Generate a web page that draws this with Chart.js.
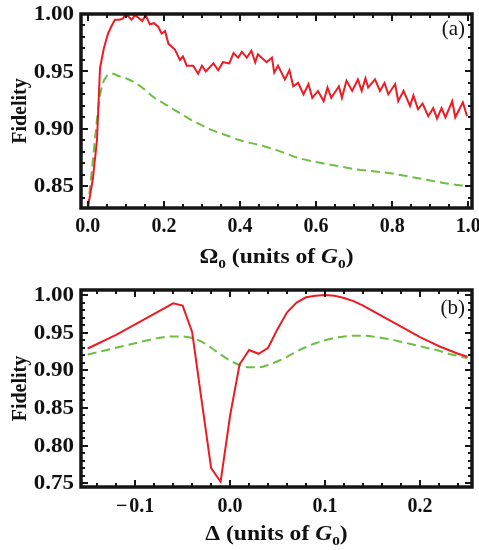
<!DOCTYPE html>
<html>
<head>
<meta charset="utf-8">
<script src="https://cdn.jsdelivr.net/npm/chart.js@4.4.1/dist/chart.umd.min.js"></script>
<style>
  html, body { margin: 0; padding: 0; background: #fff; }
  #wrap { position: relative; width: 479px; height: 550px; }
  canvas { position: absolute; left: 0; }
  #chartA { top: 0; }
  #chartB { top: 275px; }
</style>
</head>
<body>
<div id="wrap">
  <canvas id="chartA" width="479" height="275"></canvas>
  <canvas id="chartB" width="479" height="275"></canvas>
</div>
<script>
// ---- Panel (a): fidelity vs. drive amplitude Omega_0 ----
const omegaRed = [0, 0.013, 0.024, 0.032, 0.042, 0.053, 0.063, 0.071, 0.082, 0.092,
  0.100, 0.115, 0.124, 0.132, 0.143, 0.152, 0.163, 0.174, 0.185, 0.194,
  0.203, 0.212, 0.229, 0.242, 0.250, 0.260, 0.277, 0.290, 0.300, 0.310,
  0.330, 0.343, 0.355, 0.372, 0.383, 0.395, 0.405, 0.418, 0.430, 0.440,
  0.447, 0.470, 0.484, 0.490, 0.500, 0.518, 0.530, 0.540, 0.553, 0.567,
  0.580, 0.590, 0.605, 0.620, 0.630, 0.640, 0.660, 0.668, 0.680, 0.695,
  0.710, 0.720, 0.730, 0.737, 0.755, 0.768, 0.780, 0.790, 0.808, 0.816,
  0.830, 0.847, 0.856, 0.868, 0.880, 0.895, 0.908, 0.918, 0.930, 0.940,
  0.958, 0.966, 0.986, 0.997];
const fidRedA = [0.831, 0.856, 0.890, 0.953, 0.970, 0.983, 0.990, 0.995, 0.995, 0.996,
  1.000, 0.995, 0.999, 0.997, 0.994, 0.999, 0.991, 0.992, 0.989, 0.983,
  0.985, 0.974, 0.969, 0.960, 0.963, 0.955, 0.955, 0.948, 0.955, 0.950,
  0.957, 0.951, 0.958, 0.957, 0.966, 0.962, 0.967, 0.962, 0.968, 0.958,
  0.965, 0.958, 0.962, 0.949, 0.955, 0.943, 0.951, 0.937, 0.940, 0.930,
  0.939, 0.927, 0.933, 0.924, 0.936, 0.927, 0.937, 0.927, 0.942, 0.933,
  0.943, 0.933, 0.944, 0.936, 0.943, 0.933, 0.940, 0.930, 0.939, 0.924,
  0.933, 0.920, 0.929, 0.917, 0.922, 0.911, 0.918, 0.909, 0.918, 0.910,
  0.924, 0.910, 0.923, 0.911];
const omegaGreen = [0, 0.01, 0.02, 0.03, 0.04, 0.05, 0.065, 0.08, 0.10, 0.125,
  0.15, 0.175, 0.20, 0.225, 0.25, 0.275, 0.30, 0.325, 0.35, 0.375,
  0.40, 0.45, 0.50, 0.55, 0.60, 0.65, 0.70, 0.75, 0.80, 0.85, 0.90, 0.95, 1.00];
const fidGreenA = [0.831, 0.862, 0.895, 0.925, 0.940, 0.946, 0.948, 0.946, 0.944, 0.940,
  0.934, 0.927, 0.922, 0.917, 0.912, 0.907, 0.903, 0.899, 0.896, 0.893,
  0.890, 0.886, 0.881, 0.875, 0.871, 0.868, 0.865, 0.863, 0.861, 0.858, 0.855, 0.852, 0.850];
const ticksXA = [0, 0.2, 0.4, 0.6, 0.8, 1.0];
const ticksYA = [0.85, 0.90, 0.95, 1.00];

// ---- Panel (b): fidelity vs. detuning Delta ----
const deltaB = [-0.15, -0.14, -0.13, -0.12, -0.11, -0.10, -0.09, -0.08, -0.07, -0.06,
  -0.05, -0.04, -0.03, -0.02, -0.01, 0.00, 0.01, 0.02, 0.03, 0.04,
  0.05, 0.06, 0.07, 0.08, 0.09, 0.10, 0.11, 0.12, 0.13, 0.14,
  0.15, 0.16, 0.17, 0.18, 0.19, 0.20, 0.21, 0.22, 0.23, 0.24, 0.25];
const fidRedB = [0.929, 0.935, 0.941, 0.947, 0.954, 0.961, 0.968, 0.975, 0.982, 0.989,
  0.986, 0.951, 0.860, 0.770, 0.752, 0.840, 0.908, 0.927, 0.922, 0.930,
  0.955, 0.977, 0.990, 0.997, 0.999, 1.000, 0.999, 0.996, 0.992, 0.986,
  0.979, 0.972, 0.965, 0.958, 0.951, 0.944, 0.938, 0.932, 0.927, 0.922, 0.918];
const fidGreenB = [0.921, 0.924, 0.927, 0.930, 0.933, 0.936, 0.939, 0.942, 0.944, 0.945,
  0.945, 0.943, 0.938, 0.930, 0.921, 0.913, 0.907, 0.904, 0.904, 0.907,
  0.912, 0.918, 0.925, 0.931, 0.936, 0.940, 0.943, 0.945, 0.946, 0.946,
  0.945, 0.943, 0.941, 0.938, 0.935, 0.932, 0.929, 0.926, 0.922, 0.919, 0.916];
const ticksXB = [-0.1, 0, 0.1, 0.2];
const ticksYB = [0.75, 0.80, 0.85, 0.90, 0.95, 1.00];

const RED = '#ed1c24';
const GREEN = '#6dbf44';
const SERIF = '"Liberation Serif", "Times New Roman", serif';
const Y_STRETCH = 1.15;   // the vertical-axis numbers are set slightly wide

const pairs = (xs, ys) => xs.map((x, i) => ({ x, y: ys[i] }));

// Thick frame with inward major/minor ticks on all four sides
const framePlugin = {
  id: 'frame',
  afterDatasetsDraw(chart, args, o) {
    const { ctx, chartArea: a, scales: { x, y } } = chart;
    ctx.save();
    ctx.strokeStyle = '#151515';
    ctx.lineWidth = 2;
    const tickX = (v, len) => {
      const p = Math.round(x.getPixelForValue(v));
      ctx.beginPath();
      ctx.moveTo(p, a.bottom); ctx.lineTo(p, a.bottom - len);
      ctx.moveTo(p, a.top); ctx.lineTo(p, a.top + len);
      ctx.stroke();
    };
    const tickY = (v, len) => {
      const p = Math.round(y.getPixelForValue(v));
      ctx.beginPath();
      ctx.moveTo(a.left, p); ctx.lineTo(a.left + len, p);
      ctx.moveTo(a.right, p); ctx.lineTo(a.right - len, p);
      ctx.stroke();
    };
    const eps = 1e-9;
    for (let v = Math.ceil(x.min / o.minorX - eps) * o.minorX; v <= x.max + eps; v += o.minorX) tickX(v, 4);
    for (let v = Math.ceil(y.min / o.minorY - eps) * o.minorY; v <= y.max + eps; v += o.minorY) tickY(v, 4);
    o.majorX.forEach(v => tickX(v, 7));
    o.majorY.forEach(v => tickY(v, 7));
    ctx.lineWidth = 3.5;
    ctx.strokeRect(a.left, a.top, a.right - a.left, a.bottom - a.top);
    ctx.restore();
  }
};

// Draw a row of text runs centred on the current origin, widened by sx
function drawRuns(ctx, runs, sx) {
  let w = 0;
  runs.forEach(r => { ctx.font = r.f; r.w = ctx.measureText(r.t).width; w += r.w; });
  ctx.save();
  ctx.scale(sx, 1);
  let cx = -w / 2;
  runs.forEach(r => { ctx.font = r.f; ctx.fillText(r.t, cx, r.dy || 0); cx += r.w; });
  ctx.restore();
}

// Tick labels, axis titles (with subscripts / italics) and the panel tag
const textPlugin = {
  id: 'texts',
  afterDraw(chart, args, o) {
    const { ctx, chartArea: a, scales: { x, y } } = chart;
    ctx.save();
    ctx.fillStyle = '#111';
    const B = 'bold 20px ' + SERIF, S = 'bold 13px ' + SERIF, I = 'italic bold 20px ' + SERIF;

    // tick labels, taken from the scales' own ticks
    ctx.font = B;
    ctx.textBaseline = 'middle';
    ctx.textAlign = 'center';
    x.ticks.forEach(t => {
      const v = t.value;
      const lbl = v < -1e-9 ? '\u2212\u200A' + Math.abs(v).toFixed(1) : v.toFixed(1);
      ctx.fillText(lbl, x.getPixelForValue(v), a.bottom + o.xLabelDy);
    });
    y.ticks.forEach(t => {
      ctx.save();
      ctx.translate(a.left - 7, y.getPixelForValue(t.value) + 1);
      ctx.scale(Y_STRETCH, 1);
      ctx.textAlign = 'right';
      ctx.fillText(t.value.toFixed(2), 0, 0);
      ctx.restore();
    });

    ctx.textBaseline = 'alphabetic';
    ctx.textAlign = 'left';
    // x title
    ctx.save();
    ctx.translate((a.left + a.right) / 2, o.xTitleY);
    drawRuns(ctx, [
      { t: o.sym, f: B }, ...(o.symSub ? [{ t: '0', f: S, dy: 5 }] : []),
      { t: ' (units of ', f: B }, { t: 'G', f: I }, { t: '0', f: S, dy: 5 }, { t: ')', f: B }
    ], 1.18);
    ctx.restore();
    // y title
    ctx.save();
    ctx.translate(26, (a.top + a.bottom) / 2);
    ctx.rotate(-Math.PI / 2);
    drawRuns(ctx, [{ t: 'Fidelity', f: B }], 1.0);
    ctx.restore();
    // panel tag
    ctx.font = '21px ' + SERIF;
    ctx.textAlign = 'right';
    ctx.fillText(o.tag, a.right - 7, a.top + o.tagDy);
    ctx.restore();
  }
};

function makeChart(id, cfg) {
  return new Chart(document.getElementById(id), {
    type: 'line',
    data: {
      datasets: [
        { data: cfg.red, borderColor: RED, borderWidth: 2, pointRadius: 0, tension: 0, fill: false },
        { data: cfg.green, borderColor: GREEN, borderWidth: 2, borderDash: [9, 5], pointRadius: 0,
          cubicInterpolationMode: 'monotone', fill: false }
      ]
    },
    options: {
      responsive: false,
      animation: false,
      devicePixelRatio: 1,
      layout: { padding: { top: cfg.padTop, right: 7, left: 0, bottom: 0 } },
      plugins: {
        legend: { display: false },
        tooltip: { enabled: false },
        frame: { minorX: cfg.minorX, minorY: cfg.minorY, majorX: cfg.ticksX, majorY: cfg.ticksY },
        texts: { sym: cfg.sym, symSub: cfg.symSub, xTitleY: cfg.xTitleY, xLabelDy: cfg.xLabelDy,
                 tag: cfg.tag, tagDy: cfg.tagDy }
      },
      scales: {
        x: {
          type: 'linear', min: cfg.xMin, max: cfg.xMax,
          afterFit(s) { s.height = cfg.xAxisH; },
          afterBuildTicks(s) { s.ticks = cfg.ticksX.map(v => ({ value: v })); },
          grid: { display: false, drawTicks: false },
          border: { display: false },
          ticks: { display: false }
        },
        y: {
          type: 'linear', min: cfg.yMin, max: cfg.yMax,
          afterFit(s) { s.width = 81; },
          afterBuildTicks(s) { s.ticks = cfg.ticksY.map(v => ({ value: v })); },
          grid: { display: false, drawTicks: false },
          border: { display: false },
          ticks: { display: false }
        }
      }
    },
    plugins: [framePlugin, textPlugin]
  });
}

makeChart('chartA', {
  red: pairs(omegaRed, fidRedA), green: pairs(omegaGreen, fidGreenA),
  xMin: -0.018, xMax: 1.01, yMin: 0.831, yMax: 1.0,
  ticksX: ticksXA, ticksY: ticksYA, minorX: 0.05, minorY: 0.01,
  padTop: 14, xAxisH: 67, xLabelDy: 19, sym: '\u03A9', symSub: true, xTitleY: 263,
  tag: '(a)', tagDy: 21
});

makeChart('chartB', {
  red: pairs(deltaB, fidRedB), green: pairs(deltaB, fidGreenB),
  xMin: -0.157, xMax: 0.2547, yMin: 0.745, yMax: 1.0067,
  ticksX: ticksXB, ticksY: ticksYB, minorX: 0.02, minorY: 0.01,
  padTop: 15, xAxisH: 63, xLabelDy: 20, sym: '\u0394', symSub: false, xTitleY: 265,
  tag: '(b)', tagDy: 24
});
</script>
</body>
</html>
